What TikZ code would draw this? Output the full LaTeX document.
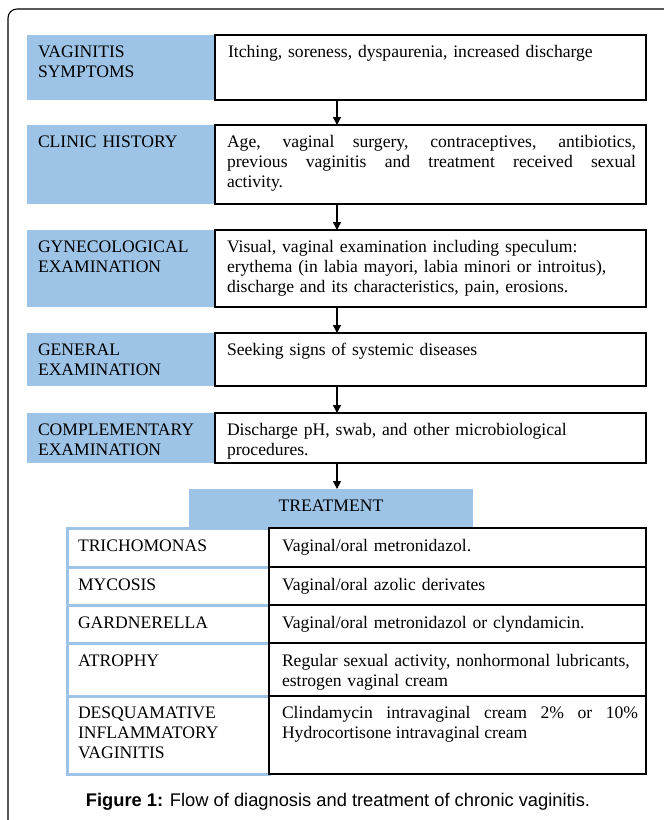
\documentclass[tikz,border=0pt]{standalone}
\usepackage{fontspec}
\setmainfont{Liberation Serif}
\newfontfamily\capfont{Liberation Sans}
\usetikzlibrary{positioning,arrows.meta}
\definecolor{stepblue}{RGB}{157,195,230}
\begin{document}
\begin{tikzpicture}[x=1pt,y=-1pt,inner sep=0pt,outer sep=0pt,
labelbox/.style={fill=stepblue,anchor=north west},
textbox/.style={draw,line width=1.1pt,fill=white,anchor=north west},
kindbox/.style={draw=stepblue,line width=3pt,fill=white,anchor=north west},
boxtext/.style={anchor=base west,text width=410,align=left,font=\fontsize{17.6}{20}\selectfont},
flow/.style={line width=1.4pt,-{Triangle[length=8pt,width=8pt]}}]
\useasboundingbox (0,0) rectangle (664,820);
\draw[line width=1.1pt,rounded corners=9pt] (680,9) -- (8,9) -- (8,840);
\coordinate (axis) at (337,0);
% diagnosis steps
\node[labelbox,minimum width=188,minimum height=65] (symlab) at (27,35) {};
\node[textbox,minimum width=431,minimum height=65] (symbox) at (215,35) {};
\node[labelbox,minimum width=188,minimum height=79] (histlab) at (27,125) {};
\node[textbox,minimum width=431,minimum height=79] (histbox) at (215,125) {};
\node[labelbox,minimum width=188,minimum height=77] (gynlab) at (27,230) {};
\node[textbox,minimum width=431,minimum height=77] (gynbox) at (215,230) {};
\node[labelbox,minimum width=188,minimum height=53] (genlab) at (27,333) {};
\node[textbox,minimum width=431,minimum height=53] (genbox) at (215,333) {};
\node[labelbox,minimum width=188,minimum height=50] (complab) at (27,413) {};
\node[textbox,minimum width=431,minimum height=50] (compbox) at (215,413) {};
\node[boxtext] at ([xshift=11pt,yshift=-22pt]symlab.north west) {VAGINITIS\\SYMPTOMS};
\node[boxtext] at ([xshift=13pt,yshift=-22pt]symbox.north west) {Itching, soreness, dyspaurenia, increased discharge};
\node[boxtext] at ([xshift=11pt,yshift=-22pt]histlab.north west) {CLINIC HISTORY};
\node[boxtext,text width=409,align=justify] at ([xshift=12pt,yshift=-22pt]histbox.north west)
  {Age, vaginal surgery, contraceptives, antibiotics,\linebreak previous vaginitis and treatment received sexual\linebreak activity.};
\node[boxtext] at ([xshift=11pt,yshift=-22pt]gynlab.north west) {GYNECOLOGICAL\\EXAMINATION};
\node[boxtext] at ([xshift=12pt,yshift=-22pt]gynbox.north west)
  {Visual, vaginal examination including speculum:\\erythema (in labia mayori, labia minori or introitus),\\discharge and its characteristics, pain, erosions.};
\node[boxtext] at ([xshift=11pt,yshift=-22pt]genlab.north west) {GENERAL\\EXAMINATION};
\node[boxtext] at ([xshift=12pt,yshift=-22pt]genbox.north west) {Seeking signs of systemic diseases};
\node[boxtext] at ([xshift=11pt,yshift=-22pt]complab.north west) {COMPLEMENTARY\\EXAMINATION};
\node[boxtext] at ([xshift=12pt,yshift=-22pt]compbox.north west) {Discharge pH, swab, and other microbiological\\procedures.};
% treatment table
\node[labelbox,minimum width=284,minimum height=38] (trt) at (189,489) {};
\node[boxtext,text width=284,align=center,anchor=base] at ([yshift=-22pt]trt.north) {TREATMENT};
\node[kindbox,minimum width=202,minimum height=39] (trilab) at (67,528) {};
\node[kindbox,minimum width=202,minimum height=38] (myclab) at (67,567) {};
\node[kindbox,minimum width=202,minimum height=38] (garlab) at (67,605) {};
\node[kindbox,minimum width=202,minimum height=53] (atrlab) at (67,643) {};
\node[kindbox,minimum width=202,minimum height=78] (deslab) at (67,696) {};
\node[textbox,minimum width=377,minimum height=39] (tribox) at (269,528) {};
\node[textbox,minimum width=377,minimum height=38] (mycbox) at (269,567) {};
\node[textbox,minimum width=377,minimum height=38] (garbox) at (269,605) {};
\node[textbox,minimum width=377,minimum height=53] (atrbox) at (269,643) {};
\node[textbox,minimum width=377,minimum height=78] (desbox) at (269,696) {};
\node[boxtext] at ([xshift=11pt,yshift=-23pt]trilab.north west) {TRICHOMONAS};
\node[boxtext] at ([xshift=11pt,yshift=-23pt]myclab.north west) {MYCOSIS};
\node[boxtext] at ([xshift=11pt,yshift=-23pt]garlab.north west) {GARDNERELLA};
\node[boxtext] at ([xshift=11pt,yshift=-23pt]atrlab.north west) {ATROPHY};
\node[boxtext] at ([xshift=11pt,yshift=-22pt]deslab.north west) {DESQUAMATIVE\\INFLAMMATORY\\VAGINITIS};
\node[boxtext] at ([xshift=13pt,yshift=-23pt]tribox.north west) {Vaginal/oral metronidazol.};
\node[boxtext] at ([xshift=13pt,yshift=-23pt]mycbox.north west) {Vaginal/oral azolic derivates};
\node[boxtext] at ([xshift=13pt,yshift=-23pt]garbox.north west) {Vaginal/oral metronidazol or clyndamicin.};
\node[boxtext] at ([xshift=13pt,yshift=-23pt]atrbox.north west) {Regular sexual activity, nonhormonal lubricants,\\estrogen vaginal cream};
\node[boxtext,text width=356,align=justify] at ([xshift=13pt,yshift=-22pt]desbox.north west)
  {Clindamycin intravaginal cream 2\% or 10\%\linebreak Hydrocortisone intravaginal cream};
% connectors
\draw[flow] (symbox.south -| axis) -- (histbox.north -| axis);
\draw[flow] (histbox.south -| axis) -- (gynbox.north -| axis);
\draw[flow] (gynbox.south -| axis) -- (genbox.north -| axis);
\draw[flow] (genbox.south -| axis) -- (compbox.north -| axis);
\draw[flow] (compbox.south -| axis) -- (trt.north -| axis);
\node[anchor=base,font=\capfont\fontsize{18.3}{20}\selectfont] (cap) at (338,806)
  {\textbf{Figure 1:} Flow of diagnosis and treatment of chronic vaginitis.};
\end{tikzpicture}
\end{document}
